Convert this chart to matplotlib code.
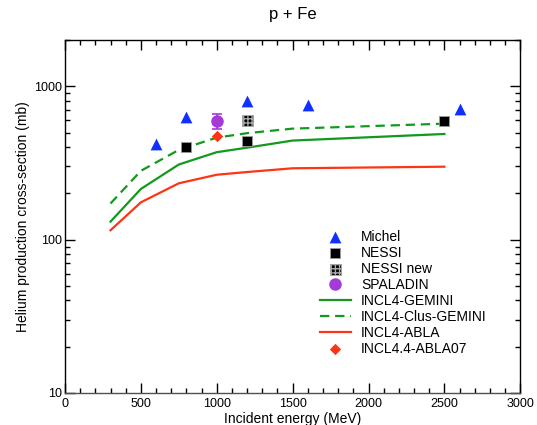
import matplotlib
matplotlib.use("Agg")
import matplotlib.pyplot as plt
from matplotlib.lines import Line2D
from matplotlib.ticker import FixedLocator, LogLocator, NullFormatter, FuncFormatter, MultipleLocator

plt.rcParams['font.family'] = ['Liberation Sans', 'DejaVu Sans']

# Model calculations (incident energy in MeV, cross-section in mb)
model_energy = [300, 500, 750, 1000, 1200, 1500, 2500]
incl4_gemini = [131, 214, 309, 372, 398, 443, 489]
incl4_clus_gemini = [172, 281, 385, 463, 495, 530, 571]
incl4_abla = [115, 175, 233, 265, 276, 292, 299]

# Measurements
michel_energy = [600, 800, 1200, 1600, 2600]
michel_xs = [421, 629, 808, 761, 713]
nessi_energy = [800, 1200, 2500]
nessi_xs = [401, 443, 595]
nessi_new_energy = [1200]
nessi_new_xs = [598]
spaladin_energy = [1000]
spaladin_xs = [595]
spaladin_err = [68]
abla07_energy = [1000]
abla07_xs = [477]

blue = '#1030ff'
green = '#119a1c'
red = '#ff3414'
purple = '#a53ad6'

fig = plt.figure(figsize=(5.37, 4.25), dpi=100)
ax = fig.add_axes([65 / 537, 1 - 392.7 / 425, (520.3 - 65) / 537, (392.7 - 40.3) / 425])

ax.plot(model_energy, incl4_gemini, color=green, lw=1.6, label='INCL4-GEMINI', zorder=2)
ax.plot(model_energy, incl4_clus_gemini, color=green, lw=1.6, ls=(0, (4.2, 2.6)),
        label='INCL4-Clus-GEMINI', zorder=2)
ax.plot(model_energy, incl4_abla, color=red, lw=1.6, label='INCL4-ABLA', zorder=2)

ax.scatter(michel_energy, michel_xs, marker='^', s=8.5 ** 2, color=blue,
           linewidths=0, label='Michel', zorder=4)
ax.scatter(nessi_energy, nessi_xs, marker='s', s=7.8 ** 2, facecolor='black',
           edgecolor='#9a9a9a', linewidths=0.6, label='NESSI', zorder=4)
ax.scatter(nessi_new_energy, nessi_new_xs, marker='s', s=7.8 ** 2, facecolor='black',
           edgecolor='#a8a8a8', linewidths=0.6, hatch='++++', label='NESSI new', zorder=4)
ax.errorbar(spaladin_energy, spaladin_xs, yerr=spaladin_err, fmt='o', ms=8,
            color=purple, mec=purple, elinewidth=1.2, capsize=3.5, capthick=1.2, zorder=4)
ax.scatter(abla07_energy, abla07_xs, marker='D', s=5.8 ** 2, color=red, linewidths=0,
           label='INCL4.4-ABLA07', zorder=5)

ax.set_xlim(0, 3000)
ax.set_yscale('log')
ax.set_ylim(10, 2000)

ax.xaxis.set_major_locator(MultipleLocator(500))
ax.xaxis.set_minor_locator(MultipleLocator(100))
ax.yaxis.set_major_locator(FixedLocator([10, 100, 1000]))
ax.yaxis.set_minor_locator(LogLocator(base=10, subs=range(2, 10)))
ax.yaxis.set_minor_formatter(NullFormatter())
ax.yaxis.set_major_formatter(FuncFormatter(lambda v, p: f'{int(round(v))}'))

ax.tick_params(which='both', direction='in', top=True, right=True, labelsize=9,
               width=1.0)
ax.tick_params(axis='x', which='both', pad=4)
ax.tick_params(axis='y', which='both', pad=2)
ax.tick_params(which='major', length=7)
ax.tick_params(which='minor', length=3.6)
for side in ['left', 'right', 'top', 'bottom']:
    ax.spines[side].set_linewidth(1.0)
ax.spines['bottom'].set_color('#505050')

ax.set_xlabel('Incident energy (MeV)', fontsize=10, labelpad=1)
ax.set_ylabel('Helium production cross-section (mb)', fontsize=10, labelpad=3)
ax.set_title('p + Fe', fontsize=12, pad=15)

handles, labels = ax.get_legend_handles_labels()
hmap = dict(zip(labels, handles))
hmap['SPALADIN'] = Line2D([], [], ls='none', marker='o', ms=8, color=purple)
order = ['Michel', 'NESSI', 'NESSI new', 'SPALADIN', 'INCL4-GEMINI',
         'INCL4-Clus-GEMINI', 'INCL4-ABLA', 'INCL4.4-ABLA07']
fig.legend([hmap[k] for k in order], order, loc='upper left',
           bbox_to_anchor=(320 / 537, 1 - 230 / 425), frameon=False,
           fontsize=10, handlelength=2.2, handletextpad=0.75,
           labelspacing=0.14, borderpad=0, borderaxespad=0, scatterpoints=1)

fig.savefig('out.png', dpi=100)
